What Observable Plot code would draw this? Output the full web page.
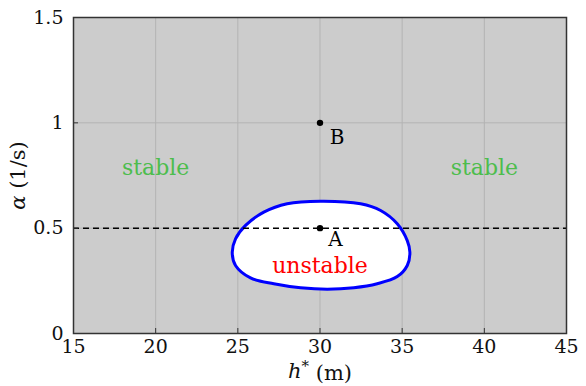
<!DOCTYPE html>
<html>
<head>
<meta charset="utf-8">
<script src="https://cdn.jsdelivr.net/npm/d3@7"></script>
<script src="https://cdn.jsdelivr.net/npm/@observablehq/plot@0.6"></script>
<style>
  html, body { margin: 0; padding: 0; background: #ffffff; }
  #chart svg { display: block; }
</style>
</head>
<body>
<div id="chart"></div>
<script>
// Stability boundary in the (h*, α) plane, traced clockwise from the top
const boundaryH     = [30.03, 32.47, 33.69, 34.70, 35.31, 35.47, 35.31, 34.70, 33.48, 32.06, 30.44, 28.82, 27.19, 25.77, 24.86, 24.66, 24.86, 25.47, 26.58, 28.0];
const boundaryAlpha = [0.628, 0.616, 0.584, 0.521, 0.441, 0.386, 0.323, 0.270, 0.236, 0.217, 0.210, 0.217, 0.236, 0.264, 0.323, 0.386, 0.449, 0.513, 0.576, 0.616];

// Operating points
const pointNames = ["A", "B"];
const pointH     = [30, 30];
const pointAlpha = [0.5, 1.0];
const pointLabelH     = [30.5, 30.6];
const pointLabelAlpha = [0.445, 0.93];

// Region annotations
const regionNames  = ["stable", "stable", "unstable"];
const regionH      = [20, 40, 30];
const regionAlpha  = [0.785, 0.785, 0.322];
const regionColors = ["#4dbd4d", "#4dbd4d", "#ff0000"];

// Reference level of α
const refAlpha = 0.5;

// Axis ticks
const xTicks = [15, 20, 25, 30, 35, 40, 45];
const yTicks = [0, 0.5, 1, 1.5];
const yTickLabels = ["0", "0.5", "1", "1.5"];

const boundary = boundaryH.map((h, i) => ({h, alpha: boundaryAlpha[i]}));
const points = pointNames.map((name, i) => ({name, h: pointH[i], alpha: pointAlpha[i], lh: pointLabelH[i], la: pointLabelAlpha[i]}));
const regions = regionNames.map((name, i) => ({name, h: regionH[i], alpha: regionAlpha[i], color: regionColors[i]}));

const font = "'DejaVu Serif', 'Liberation Serif', serif";

const chart = Plot.plot({
  width: 586,
  height: 386,
  marginLeft: 73,
  marginRight: 20,
  marginTop: 17,
  marginBottom: 53,
  style: {fontFamily: font, fontSize: "19px", color: "#111", background: "#ffffff"},
  x: {domain: [15, 45]},
  y: {domain: [0, 1.5]},
  marks: [
    Plot.frame({fill: "#cccccc", stroke: null}),
    Plot.gridX(xTicks, {stroke: "#b3b3b3", strokeOpacity: 1, strokeWidth: 1}),
    Plot.gridY(yTicks, {stroke: "#b3b3b3", strokeOpacity: 1, strokeWidth: 1}),
    Plot.line(boundary, {x: "h", y: "alpha", curve: "catmull-rom-closed", fill: "#ffffff", stroke: "#0000ff", strokeWidth: 3}),
    Plot.ruleY([refAlpha], {stroke: "#000", strokeWidth: 1.5, strokeDasharray: "6,4"}),
    Plot.dot(points, {x: "h", y: "alpha", r: 3.2, fill: "#000", stroke: null}),
    Plot.text(points, {x: "lh", y: "la", text: "name", textAnchor: "start", fontSize: 20, fill: "#000"}),
    Plot.text(regions, {x: "h", y: "alpha", text: "name", fill: "color", fontSize: 22}),
    Plot.axisX(xTicks, {tickSize: -5, tickPadding: 11, stroke: "#333", fontSize: 19, label: "h* (m)", labelAnchor: "center", labelOffset: 44, labelArrow: "none"}),
    Plot.axisY(yTicks, {tickSize: -5, tickPadding: 15, stroke: "#333", fontSize: 19, tickFormat: (d) => yTickLabels[yTicks.indexOf(d)], label: "α (1/s)", labelAnchor: "center", labelOffset: 63, labelArrow: "none"}),
    Plot.frame({stroke: "#333", strokeWidth: 1.5})
  ]
});

document.getElementById("chart").appendChild(chart);

// Typeset the axis titles: italic symbols and a superscript star
const svg = d3.select(chart);
const xLabel = svg.select('g[aria-label="x-axis label"] text');
if (!xLabel.empty()) {
  xLabel.text(null).style("font-size", "21px");
  xLabel.append("tspan").attr("font-style", "italic").text("h");
  xLabel.append("tspan").attr("dy", "-0.45em").attr("font-size", "15px").text("*");
  xLabel.append("tspan").attr("dy", "0.45em").text(" (m)");
}
const yLabel = svg.select('g[aria-label="y-axis label"] text');
if (!yLabel.empty()) {
  yLabel.text(null).style("font-size", "21px");
  yLabel.append("tspan").attr("font-style", "italic").text("α");
  yLabel.append("tspan").text(" (1/s)");
}
</script>
</body>
</html>
